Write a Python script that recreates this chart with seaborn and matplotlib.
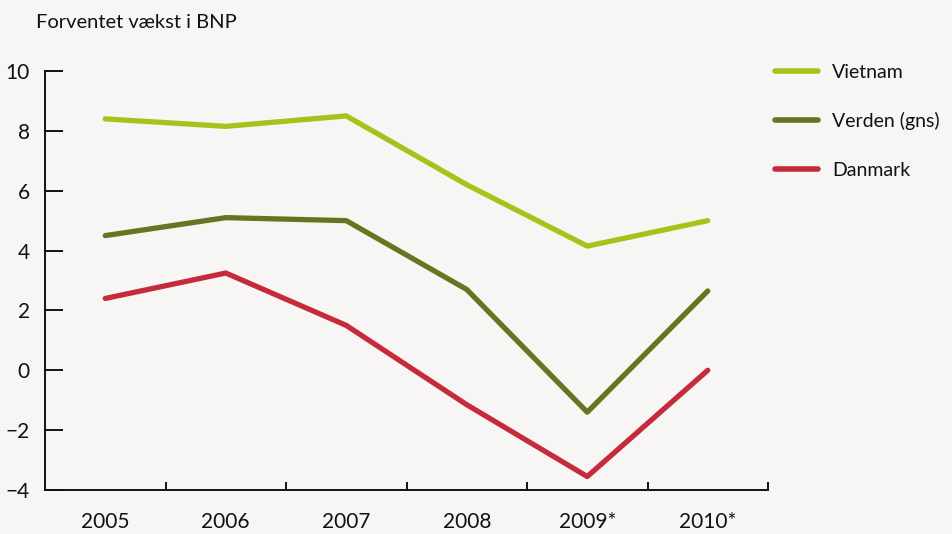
import pandas as pd
import seaborn as sns
import matplotlib.pyplot as plt

years = ['2005', '2006', '2007', '2008', '2009*', '2010*']
vietnam = [8.4, 8.15, 8.5, 6.2, 4.15, 5.0]
verden = [4.5, 5.1, 5.0, 2.7, -1.4, 2.65]
danmark = [2.4, 3.25, 1.5, -1.15, -3.55, 0.0]
series = ['Vietnam', 'Verden (gns)', 'Danmark']
colors = ['#a4c41a', '#657521', '#c52b3a']

data = pd.DataFrame({
    'x': list(range(len(years))) * 3,
    'value': vietnam + verden + danmark,
    'land': [s for s in series for _ in years],
})

sns.set_style('white')
plt.rcParams['font.family'] = ['Lato', 'DejaVu Sans']
bg = '#f7f6f4'

fig = plt.figure(figsize=(9.52, 5.34), dpi=100, facecolor=bg)
ax = fig.add_axes([45 / 952, 1 - 490 / 534, 723 / 952, 419 / 534])
ax.set_facecolor(bg)

sns.lineplot(data=data, x='x', y='value', hue='land', palette=colors,
             linewidth=3.8, ax=ax)

ax.set_xlim(-0.5, 5.5)
ax.set_ylim(-4, 10)
ax.set_yticks(range(-4, 11, 2))
ax.set_yticklabels(['\u22124', '\u22122', '0', '2', '4', '6', '8', '10'])
ax.set_xticks([i + 0.5 for i in range(6)])
ax.set_xticklabels([])
ax.set_xticks(range(6), minor=True)
ax.set_xticklabels(years, minor=True)
ax.tick_params(axis='x', which='major', bottom=True, direction='in', length=6, width=1.4,
               color='#111111')
ax.tick_params(axis='x', which='minor', bottom=True, length=0, pad=16, labelsize=15,
               labelcolor='#111111')
ax.tick_params(axis='y', left=True, direction='in', length=13, width=1.4, pad=11,
               labelsize=15, color='#111111', labelcolor='#111111')
for side in ['top', 'right']:
    ax.spines[side].set_visible(False)
for side in ['left', 'bottom']:
    ax.spines[side].set_linewidth(1.4)
    ax.spines[side].set_color('#111111')
ax.set_xlabel('')
ax.set_ylabel('')

leg = ax.legend(loc='upper left', bbox_to_anchor=(0.999, 1.036), frameon=False,
                fontsize=14, handlelength=2.2, handletextpad=0.75, labelspacing=1.62,
                borderaxespad=0)
for line in leg.get_lines():
    line.set_linewidth(4)
for t in leg.get_texts():
    t.set_color('#111111')

fig.text(36 / 952, 1 - 22 / 534, 'Forventet vækst i BNP', fontsize=14.5, va='center',
         ha='left', color='#111111')

fig.savefig('out.png', dpi=100, facecolor=bg)
